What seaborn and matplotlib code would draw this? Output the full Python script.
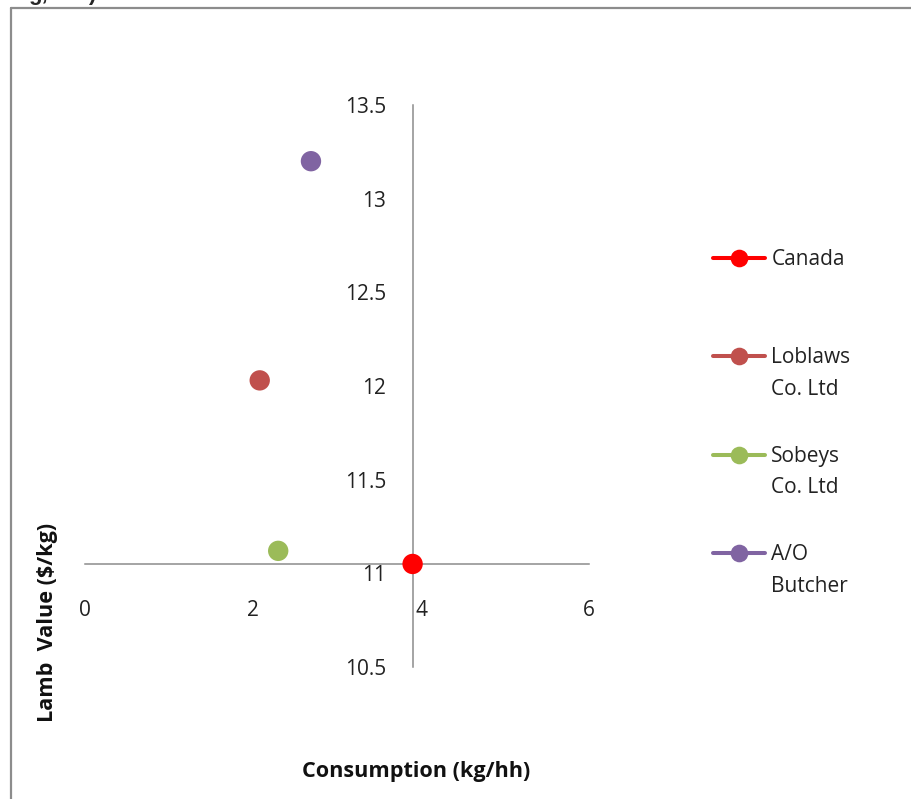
import numpy as np
import pandas as pd
import matplotlib
matplotlib.use("Agg")
import matplotlib.pyplot as plt
import seaborn as sns
from matplotlib.lines import Line2D
from matplotlib.legend_handler import HandlerLine2D

# ---- data ----
retailers = ["Canada", "Loblaws Co. Ltd", "Sobeys Co. Ltd", "A/O Butcher"]
legend_labels = ["Canada\n ", "Loblaws\nCo. Ltd", "Sobeys\nCo. Ltd", "A/O\nButcher"]
consumption = [3.9, 2.08, 2.3, 2.69]
lamb_value = [11.05, 12.03, 11.12, 13.2]
x_ticks = [0, 2, 4, 6]
y_ticks = [10.5, 11, 11.5, 12, 12.5, 13, 13.5]
y_tick_labels = ["10.5", "11", "11.5", "12", "12.5", "13", "13.5"]
colors = ["#FF0000", "#C0504D", "#9BBB59", "#8064A2"]

# axis crossing values (Excel style)
x_cross = 3.9
y_cross = 11.05

sns.set_theme(style="white")
plt.rcParams["font.family"] = ["Open Sans", "DejaVu Sans"]

W, H = 912, 799
fig = plt.figure(figsize=(W / 100, H / 100), dpi=100)
ax = fig.add_axes([85 / W, 1 - 667 / H, 504 / W, 562 / H])

df = pd.DataFrame({"Retailer": retailers, "Consumption": consumption, "Value": lamb_value})
sns.scatterplot(data=df, x="Consumption", y="Value", hue="Retailer",
                palette=dict(zip(retailers, colors)), s=215, edgecolor="none",
                legend=False, ax=ax, zorder=3)

ax.set_xlim(0, 6)
ax.set_ylim(10.5, 13.5)
ax.set_xticks(x_ticks)
ax.set_xticklabels([str(t) for t in x_ticks])
ax.set_yticks(y_ticks)
ax.set_yticklabels(y_tick_labels)

for side in ["top", "right"]:
    ax.spines[side].set_visible(False)
ax.spines["left"].set_position(("data", x_cross))
ax.spines["bottom"].set_position(("data", y_cross))
for side in ["left", "bottom"]:
    ax.spines[side].set_color("#8C8C8C")
    ax.spines[side].set_linewidth(1.1)
    ax.spines[side].set_zorder(1)

ax.tick_params(axis="y", length=0, pad=19, labelsize=15, labelcolor="#222222")
ax.tick_params(axis="x", length=0, pad=26, labelsize=15, labelcolor="#222222")
ax.grid(False)

ax.set_xlabel("Consumption (kg/hh)", fontsize=15.6, fontweight="bold", color="#111111")
ax.set_ylabel("Lamb  Value ($/kg)", fontsize=15.6, fontweight="bold", color="#111111")
ax.xaxis.set_label_coords((416 - 85) / 504, (667 - 771) / 562)
ax.xaxis.label.set_va("center")
ax.yaxis.set_label_coords((48 - 85) / 504, (667 - 622) / 562)
ax.yaxis.label.set_va("center")


class TopAlignedHandler(HandlerLine2D):
    def __init__(self, shift, **kw):
        super().__init__(**kw)
        self.shift = shift

    def create_artists(self, legend, orig_handle, xdescent, ydescent, width,
                       height, fontsize, trans):
        return super().create_artists(legend, orig_handle, xdescent,
                                      ydescent - 2 * self.shift * fontsize,
                                      width, height, fontsize, trans)


handles = [Line2D([], [], color=c, lw=2.9, marker="o", markersize=12.7,
                  markeredgewidth=0) for c in colors]
leg = fig.legend(handles, legend_labels, loc="upper left",
                 bbox_to_anchor=(713 / W, 1 - 249 / H), frameon=False,
                 fontsize=15, handlelength=2.5, handletextpad=0.3,
                 labelspacing=2.2, borderpad=0, borderaxespad=0,
                 handler_map={Line2D: TopAlignedHandler(0.86)})
for t in leg.get_texts():
    t.set_color("#222222")
    t.set_linespacing(1.66)

# outer frame (partially visible)
frame_kw = dict(color="#8C8C8C", lw=1.6, transform=fig.transFigure)
fig.add_artist(Line2D([11 / W, 11 / W], [0, 1 - 8 / H], **frame_kw))
fig.add_artist(Line2D([11 / W, 1], [1 - 8 / H, 1 - 8 / H], **frame_kw))

# clipped title fragment at the top edge (as in the reference)
fig.text(28 / W, 1.0, "g,", fontsize=16, fontweight="bold",
         family=["Liberation Sans", "DejaVu Sans"], va="baseline")
fig.text(88 / W, 1.0, ")", fontsize=16, fontweight="bold",
         family=["Liberation Sans", "DejaVu Sans"], va="baseline")

fig.savefig("out.png", dpi=100)
